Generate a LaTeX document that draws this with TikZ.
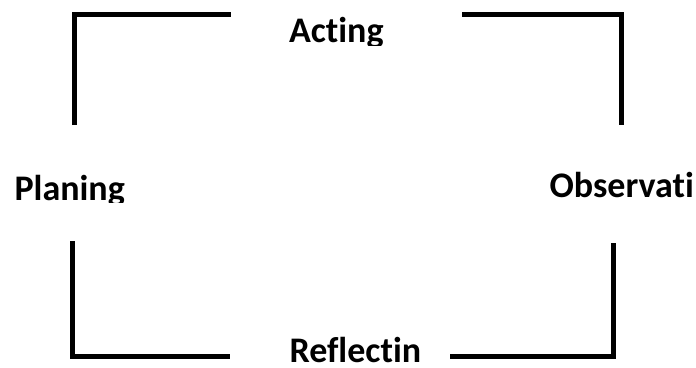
\documentclass[tikz,border=0pt]{standalone}
\usepackage{fontspec}
\setmainfont{Carlito}
\newfontfamily\lblfont{Carlito}[UprightFont={* Bold},Ligatures={NoCommon}]
\tikzset{
  bracket/.style={line width=5pt, line join=miter, line cap=butt, black},
  lbl/.style={anchor=base west, inner sep=0pt, outer sep=0pt, font=\lblfont\fontsize{36}{42}\selectfont}
}
\begin{document}
\begin{tikzpicture}[x=1pt,y=-1pt]
\useasboundingbox (0,0) rectangle (696,367);
% corner coordinates
\coordinate (tlA) at (74,125);
\coordinate (tlC) at (74,14);
\coordinate (tlB) at (231,14);
\coordinate (trA) at (462,14);
\coordinate (trC) at (621,14);
\coordinate (trB) at (621,125);
\coordinate (blA) at (72.5,241);
\coordinate (blC) at (72.5,356.5);
\coordinate (blB) at (230,356.5);
\coordinate (brA) at (450,356.5);
\coordinate (brC) at (613,356.5);
\coordinate (brB) at (613,243);
\draw[bracket] (tlA) -- (tlC) -- (tlB);
\draw[bracket] (trA) -- (trC) -- (trB);
\draw[bracket] (blA) -- (blC) -- (blB);
\draw[bracket] (brA) -- (brC) -- (brB);
% labels, clipped at the bottom as in the reference
\begin{scope}
  \clip (250,0) rectangle (440,45);
  \node[lbl] (acting) at (289,42) {Acting};
\end{scope}
\begin{scope}
  \clip (0,160) rectangle (200,202);
  \node[lbl] (planing) at (14.5,200) {Planing};
\end{scope}
\node[lbl] (observ) at (549.5,197.5) {Observati};
\node[lbl] (reflect) at (289.5,362) {Reflectin};
\end{tikzpicture}
\end{document}
